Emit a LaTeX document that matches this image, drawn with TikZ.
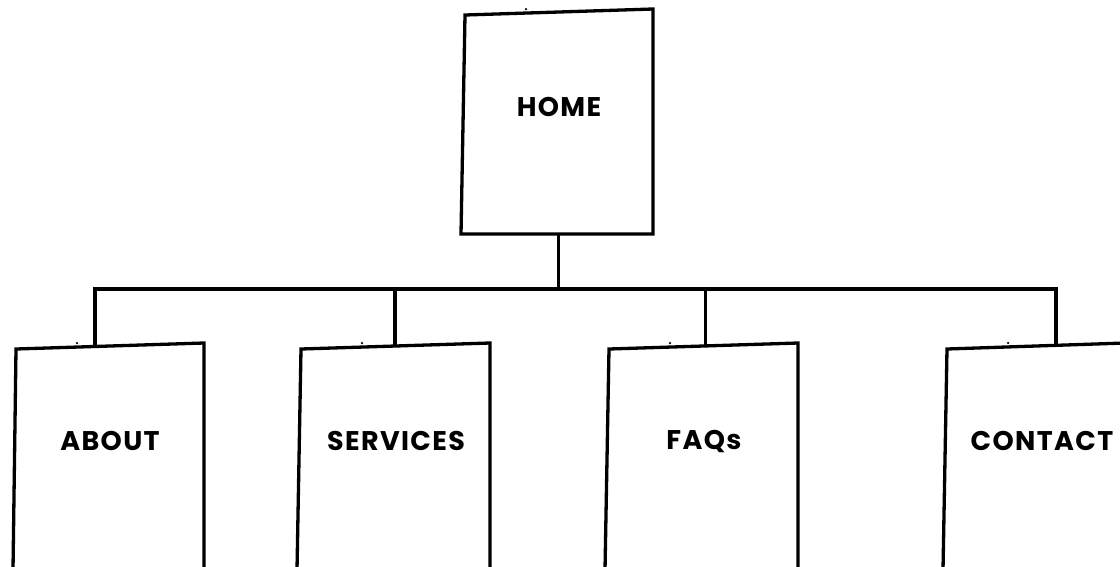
\documentclass[tikz,border=0pt]{standalone}
\usepackage{fontspec}
\setmainfont{Poppins}
\newfontfamily\lblfont{Poppins}[LetterSpace=5]
\begin{document}
\begin{tikzpicture}[x=1pt,y=-1pt,
  box/.style={line width=3.3pt, line join=miter, black},
  wire/.style={line width=3.3pt, black},
  lbl/.style={font=\lblfont\fontsize{27}{31}\selectfont\bfseries, inner sep=0pt, anchor=center},
  speck/.style={fill=black, circle, inner sep=0pt, minimum size=2.5pt}]
\useasboundingbox (0,0) rectangle (1120,566);
\fill[white] (0,0) rectangle (1120,566);
% HOME box
\draw[box] (465,15) -- (653,9) -- (653,234) -- (461,234) -- cycle;
\node[lbl] (home) at (559,107) {HOME};
\coordinate (homeS) at (558.7,234);
\coordinate (bus) at (558.7,289);
% child boxes (open at the bottom)
\draw[box] (13,570) -- (16,349) -- (204,343) -- (204,570);
\draw[box] (297,570) -- (301,349) -- (490,343) -- (490,570);
\draw[box] (605,570) -- (609,349) -- (798,343) -- (798,570);
\draw[box] (943,570) -- (947,349) -- (1125,343);
\node[lbl] (about) at (110,441) {ABOUT};
\node[lbl] (services) at (396,441) {SERVICES};
\node[lbl] (faqs) at (704,441) {FAQs};
\node[lbl] (contact) at (1042,441) {CONTACT};
\coordinate (aboutT) at (95,346);
\coordinate (servicesT) at (395,346);
\coordinate (faqsT) at (705.3,346);
\coordinate (contactT) at (1056,344.5);
% connectors
\draw[wire] (homeS) -- (bus);
\draw[wire, line join=miter] (aboutT) -- (aboutT |- bus) -- (contactT |- bus) -- (contactT);
\draw[wire] (servicesT |- bus) -- (servicesT);
\draw[wire] (faqsT |- bus) -- (faqsT);
% small specks above the top edges
\node[speck] (s0) at (526,9) {};
\node[speck] (s1) at (77,343) {};
\node[speck] (s2) at (362,343) {};
\node[speck] (s3) at (670,343) {};
\node[speck] (s4) at (1008,343) {};
\end{tikzpicture}
\end{document}
